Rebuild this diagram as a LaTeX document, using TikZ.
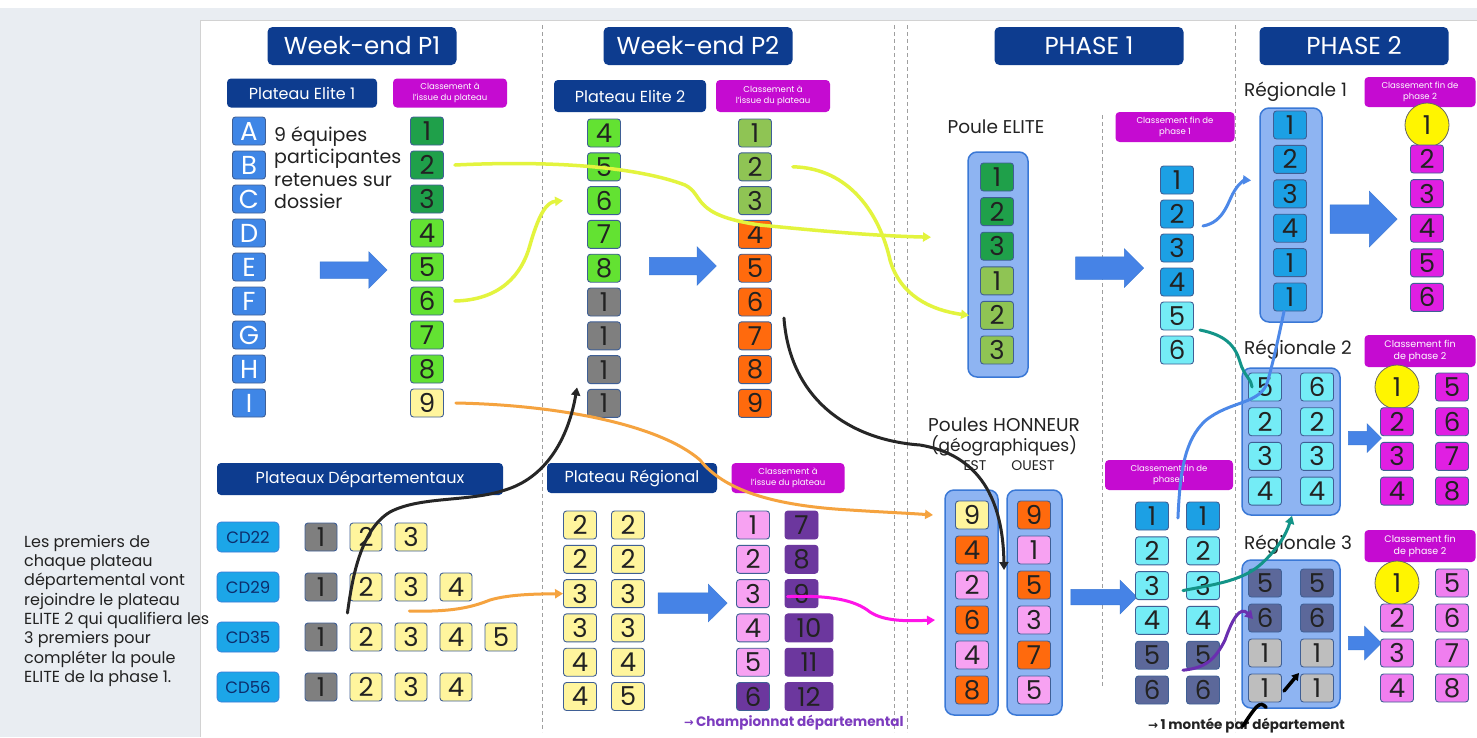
\documentclass[tikz,border=0pt]{standalone}
\usepackage{fontspec}
\setmainfont{Poppins}
\newfontfamily\dejavu{DejaVu Sans}
\usetikzlibrary{shapes.arrows,arrows.meta}
\definecolor{hdr}{HTML}{0D3C8F}
\definecolor{mag}{HTML}{C50BD1}
\definecolor{letblue}{HTML}{3F86E6}
\definecolor{dkgreen}{HTML}{1FA04A}
\definecolor{ltgreen}{HTML}{63E232}
\definecolor{lyellow}{HTML}{FFF59D}
\definecolor{olive}{HTML}{8FC454}
\definecolor{orng}{HTML}{FF6A0D}
\definecolor{gry}{HTML}{7F7F7F}
\definecolor{pblue}{HTML}{1CA0E4}
\definecolor{cyantwo}{HTML}{74ECF6}
\definecolor{slate}{HTML}{5C689A}
\definecolor{lgray}{HTML}{BEBEBE}
\definecolor{pink}{HTML}{F7A2F2}
\definecolor{purp}{HTML}{6C379E}
\definecolor{magbox}{HTML}{E01FE2}
\definecolor{lmag}{HTML}{F07EEF}
\definecolor{ctnfill}{HTML}{8EB4F2}
\definecolor{ctnline}{HTML}{3A78D6}
\definecolor{bxline}{HTML}{3F5F95}
\definecolor{arrblue}{HTML}{4683E6}
\definecolor{cdblue}{HTML}{1CA6E8}
\definecolor{cdtext}{HTML}{0D2D6B}
\definecolor{lyel}{HTML}{E3F43E}
\definecolor{lora}{HTML}{F5A33F}
\definecolor{lmagl}{HTML}{FF14E8}
\definecolor{lteal}{HTML}{139488}
\definecolor{lblue}{HTML}{4C88E8}
\definecolor{lpurp}{HTML}{6A2FB0}
\definecolor{bgray}{HTML}{E9EDF2}
\definecolor{txt}{HTML}{222222}
\definecolor{circy}{HTML}{FFF500}
\definecolor{champ}{HTML}{7D3CBF}
\begin{document}
\begin{tikzpicture}[x=1pt,y=-1pt,
  hdr/.style={fill=hdr, rounded corners=5pt, text=white, inner sep=0pt, minimum height=38pt, minimum width=189pt, font=\fontsize{24.5}{27}\selectfont},
  sub/.style={fill=hdr, rounded corners=4pt, text=white, inner sep=0pt, minimum height=30pt, font=\fontsize{16}{18}\selectfont},
  cls/.style={fill=mag, rounded corners=4pt, text=white, align=center, inner sep=0pt, minimum height=30pt, font=\fontsize{8.5}{10.5}\selectfont},
  bx/.style={draw=bxline, line width=0.9pt, rounded corners=3pt, minimum width=33pt, minimum height=28pt, inner sep=0pt, text=txt, font=\fontsize{26}{26}\selectfont},
  ctn/.style={fill=ctnfill, draw=ctnline, line width=1.5pt, rounded corners=9pt},
  ycirc/.style={circle, fill=circy, draw=black!60, line width=0.8pt, minimum size=44pt, inner sep=0pt, text=txt, font=\fontsize{26}{26}\selectfont},
  bigarrow/.style 2 args={single arrow, fill=arrblue, draw=ctnline, line width=0.5pt, inner sep=#1, single arrow head extend=#2},
  cdbox/.style={fill=cdblue, draw=ctnline, line width=0.6pt, rounded corners=4pt, minimum width=62pt, minimum height=30pt, inner sep=0pt, text=cdtext, font=\fontsize{16.5}{16.5}\selectfont},
  sep/.style={draw=gray!75, dash pattern=on 4pt off 3pt, line width=0.7pt},
  curve/.style={line width=3pt, line cap=round},
  tip/.style={-{Triangle[length=8pt,width=9pt]}},
  lbl/.style={text=txt, inner sep=0pt}
]
\useasboundingbox (0,0) rectangle (1477,737);
\fill[bgray] (0,8) rectangle (1477,737);
\fill[white] (200,20) rectangle (1477,737);
\draw[gray!35, line width=0.8pt] (200,737) -- (200,20) -- (1477,20);

% separators
\draw[sep] (542,25) -- (542,732);
\draw[sep] (894,25) -- (894,732);
\draw[sep] (907,25) -- (907,732);
\draw[sep] (1102,115) -- (1102,688);
\draw[sep] (1235,25) -- (1235,732);

% main headers
\node[hdr] (hP1) at (362,46) {Week-end P1};
\node[hdr] (hP2) at (698,46) {Week-end P2};
\node[hdr] (hPh1) at (1089,46) {PHASE 1};
\node[hdr] (hPh2) at (1354,46) {PHASE 2};

% sub headers
\node[sub, minimum width=150pt, minimum height=29pt] (sE1) at (302,93) {Plateau Elite 1};
\node[sub, minimum width=152pt, minimum height=32pt] (sE2) at (630,96) {Plateau Elite 2};
\node[sub, minimum width=286pt, minimum height=32pt] (sDep) at (360,479) {Plateaux Départementaux};
\node[sub, minimum width=170pt, minimum height=30pt] (sReg) at (632,478) {Plateau Régional};

% classement labels
\node[cls, minimum width=114pt, minimum height=29pt] (cl1) at (450,93) {Classement à\\l'issue du plateau};
\node[cls, minimum width=114pt, minimum height=32pt] (cl2) at (773,96) {Classement à\\l'issue du plateau};
\node[cls, minimum width=119pt] (cl3) at (1175,127) {Classement fin de\\phase 1};
\node[cls, minimum width=111pt] (cl4) at (1420,92) {Classement fin de\\phase 2};
\node[cls, minimum width=111pt, minimum height=32pt, font=\fontsize{9.5}{12}\selectfont] (cl5) at (1420,351) {Classement fin\\de phase 2};
\node[cls, minimum width=111pt, minimum height=32pt, font=\fontsize{9.5}{12}\selectfont] (cl6) at (1420,546) {Classement fin\\de phase 2};
\node[cls, minimum width=113pt] (cl7) at (788,478) {Classement à\\l'issue du plateau};
\node[cls, minimum width=128pt] (cl8) at (1169,475) {Classement fin de\\phase 1};

% Week-end P1
\foreach \l [count=\i] in {A,B,C,D,E,F,G,H,I}
  \node[bx, fill=letblue, text=white] (p1l\i) at (249,{131+34*(\i-1)}) {\l};
\foreach \c [count=\i] in {dkgreen,dkgreen,dkgreen,ltgreen,ltgreen,ltgreen,ltgreen,ltgreen,lyellow}
  \node[bx, fill=\c] (p1r\i) at (427,{131+34*(\i-1)}) {\i};
\node[lbl, anchor=north west, align=left, font=\fontsize{19}{22.5}\selectfont] (p1txt) at (274,126) {9 équipes\\participantes\\retenues sur\\dossier};
\node[bigarrow={8pt}{10pt}, minimum height=67pt] (a1) at (349.5,270) {};

% Week-end P2
\foreach \v/\c [count=\i] in {4/ltgreen,5/ltgreen,6/ltgreen,7/ltgreen,8/ltgreen,1/gry,1/gry,1/gry,1/gry}
  \node[bx, fill=\c] (p2l\i) at (604,{133+33.8*(\i-1)}) {\v};
\foreach \c [count=\i] in {olive,olive,olive,orng,orng,orng,orng,orng,orng}
  \node[bx, fill=\c] (p2r\i) at (755,{133+33.8*(\i-1)}) {\i};
\node[bigarrow={8.5pt}{10.5pt}, minimum height=67pt] (a2) at (678.5,266) {};

% Poule ELITE
\node[lbl, font=\fontsize{18.5}{20}\selectfont] (peT) at (996,127) {Poule ELITE};
\node[ctn, minimum width=60pt, minimum height=225pt] (peC) at (998,264.5) {};
\foreach \v/\c [count=\i] in {1/dkgreen,2/dkgreen,3/dkgreen,1/olive,2/olive,3/olive}
  \node[bx, fill=\c] (pe\i) at (997,{177+34.6*(\i-1)}) {\v};
\node[bigarrow={11pt}{8pt}, minimum height=68pt] (a3) at (1104,268) {};
\foreach \c [count=\i] in {pblue,pblue,pblue,pblue,cyantwo,cyantwo}
  \node[bx, fill=\c] (c1\i) at (1177,{180+34*(\i-1)}) {\i};

% Regionale 1
\node[lbl, anchor=west, font=\fontsize{18.5}{20}\selectfont] (r1T) at (1244,92) {Régionale 1};
\node[ctn, minimum width=62pt, minimum height=214pt] (r1C) at (1291,215) {};
\foreach \v [count=\i] in {1,2,3,4,1,1}
  \node[bx, fill=pblue] (r1\i) at (1290,{125+34.4*(\i-1)}) {\v};
\node[bigarrow={14pt}{13.5pt}, minimum height=67pt] (a4) at (1356.5,219) {};
\node[ycirc] (r1o1) at (1427,125) {1};
\foreach \i in {2,...,6}
  \node[bx, fill=magbox] (r1o\i) at (1427,{159+34.6*(\i-2)}) {\i};

% Regionale 2
\node[lbl, anchor=west, font=\fontsize{18.5}{20}\selectfont] (r2T) at (1244,350) {Régionale 2};
\node[ctn, minimum width=98pt, minimum height=147pt] (r2C) at (1291,441.5) {};
\foreach \a/\b [count=\i] in {5/6,2/2,3/3,4/4}{
  \node[bx, fill=cyantwo] (r2l\i) at (1265,{387+34.7*(\i-1)}) {\a};
  \node[bx, fill=cyantwo] (r2r\i) at (1317,{387+34.7*(\i-1)}) {\b};
}
\node[bigarrow={6.5pt}{7.5pt}, minimum height=33pt] (a5) at (1361.5,438) {};
\node[ycirc] (r2o1) at (1397,387) {1};
\foreach \i in {2,3,4}
  \node[bx, fill=magbox] (r2o\i) at (1397,{387+34.7*(\i-1)}) {\i};
\foreach \i in {5,...,8}
  \node[bx, fill=magbox] (r2o\i) at (1452,{387+34.7*(\i-5)}) {\i};

% Regionale 3
\node[lbl, anchor=west, font=\fontsize{18.5}{20}\selectfont] (r3T) at (1244,545) {Régionale 3};
\node[ctn, minimum width=98pt, minimum height=148pt] (r3C) at (1291,634) {};
\draw[curve, black, line width=3.5pt, -{Triangle[length=7pt,width=8pt]}] (1284,691) -- (1299,673);
\foreach \a/\b/\c [count=\i] in {5/5/slate,6/6/slate,1/1/lgray,1/1/lgray}{
  \node[bx, fill=\c] (r3l\i) at (1265,{583+35*(\i-1)}) {\a};
  \node[bx, fill=\c] (r3r\i) at (1317,{583+35*(\i-1)}) {\b};
}
\node[bigarrow={6.5pt}{10pt}, minimum height=33pt] (a6) at (1361.5,643) {};
\node[ycirc] (r3o1) at (1397,583) {1};
\foreach \i in {2,3,4}
  \node[bx, fill=lmag] (r3o\i) at (1397,{583+35*(\i-1)}) {\i};
\foreach \i in {5,...,8}
  \node[bx, fill=lmag] (r3o\i) at (1452,{583+35*(\i-5)}) {\i};

% Poules Honneur
\node[lbl, font=\fontsize{18.5}{20}\selectfont] (hT1) at (1004,425) {Poules HONNEUR};
\node[lbl, font=\fontsize{17}{19}\selectfont] (hT2) at (1004,446) {(géographiques)};
\node[lbl, font=\fontsize{14}{16}\selectfont] (hEst) at (975,466) {EST};
\node[lbl, font=\fontsize{14}{16}\selectfont] (hOuest) at (1033,466) {OUEST};
\node[ctn, minimum width=53pt, minimum height=225pt] (estC) at (971.5,602.5) {};
\node[ctn, minimum width=55pt, minimum height=225pt] (ouestC) at (1034.5,602.5) {};
\foreach \v/\c [count=\i] in {9/lyellow,4/orng,2/pink,6/orng,4/pink,8/orng}
  \node[bx, fill=\c] (est\i) at (972,{515+35*(\i-1)}) {\v};
\foreach \v/\c [count=\i] in {9/orng,1/pink,5/orng,3/pink,7/orng,5/pink}
  \node[bx, fill=\c] (ouest\i) at (1034,{515+35*(\i-1)}) {\v};
\node[bigarrow={7.5pt}{9pt}, minimum height=66pt] (a8) at (1100,597) {};
\foreach \v/\c [count=\i] in {1/pblue,2/cyantwo,3/cyantwo,4/cyantwo,5/slate,6/slate}{
  \node[bx, fill=\c] (hl\i) at (1152,{516+34.8*(\i-1)}) {\v};
  \node[bx, fill=\c] (hr\i) at (1203,{516+34.8*(\i-1)}) {\v};
}
\node[lbl, anchor=west, font=\bfseries\fontsize{13.5}{15}\selectfont] (monT) at (1148,726) {{\dejavu\fontsize{12}{14}\selectfont →}\,1 montée par département};

% Plateau regional
\foreach \a/\b [count=\i] in {2/2,2/2,3/3,3/3,4/4,4/5}{
  \node[bx, fill=lyellow] (prl\i) at (580,{525+34.3*(\i-1)}) {\a};
  \node[bx, fill=lyellow] (prr\i) at (628,{525+34.3*(\i-1)}) {\b};
}
\node[bigarrow={10pt}{8.5pt}, minimum height=69pt] (a7) at (687.5,603) {};
\foreach \c [count=\i] in {pink,pink,pink,pink,pink,purp}
  \node[bx, fill=\c] (rkl\i) at (753,{525+34.3*(\i-1)}) {\i};
\foreach \i in {7,8,9}
  \node[bx, fill=purp, draw=purp] (rkr\i) at (801.5,{525+34.3*(\i-7)}) {\i};
\foreach \i in {10,11,12}
  \node[bx, fill=purp, draw=purp, minimum width=48pt] (rkr\i) at (809,{525+34.3*(\i-7)}) {\i};
\node[lbl, anchor=west, text=champ, font=\bfseries\fontsize{13.6}{15}\selectfont] (chT) at (684,723) {{\dejavu\fontsize{11.5}{14}\selectfont →}\,Championnat départemental};

% Plateaux departementaux
\foreach \n/\k [count=\r] in {22/3,29/4,35/5,56/4}{
  \node[cdbox] (cd\n) at (248,{537+50*(\r-1)}) {CD\n};
  \node[bx, fill=gry, minimum width=32pt] (cd\n x1) at (321,{537+50*(\r-1)}) {1};
  \foreach \j in {2,...,\k}
    \node[bx, fill=lyellow, minimum width=32pt] (cd\n x\j) at ({321+45*(\j-1)},{537+50*(\r-1)}) {\j};
}

% left note
\node[lbl, anchor=north west, align=left, font=\fontsize{16}{19.3}\selectfont] (note) at (24,535) {Les premiers de\\chaque plateau\\départemental vont\\rejoindre le plateau\\ELITE 2 qui qualifiera les\\3 premiers pour\\compléter la poule\\ELITE de la phase 1.};

% connectors
\draw[curve, lyel, line width=3.5pt, tip] ([xshift=11pt]p1r2.east) .. controls (560,160) and (640,168) .. (685,185) .. controls (705,195) and (690,215) .. (760,225) .. controls (830,232) and (880,236) .. ([xshift=-49pt,yshift=9pt]pe3.west);
\draw[curve, lyel, line width=3.5pt, tip] ([xshift=11pt]p1r6.east) .. controls (500,300) and (522,275) .. (530,245) .. controls (540,210) and (548,202) .. ([xshift=-24pt]p2l3.west);
\draw[curve, lyel, line width=3.5pt, tip] ([xshift=21pt]p2r2.east) .. controls (850,168) and (880,215) .. (890,260) .. controls (900,295) and (930,310) .. ([xshift=-11pt]pe5.west);
\draw[curve, lora, tip] ([xshift=12pt]p1r9.east) .. controls (560,405) and (660,425) .. (700,460) .. controls (720,485) and (760,505) .. (850,510) .. controls (880,512) and (905,513) .. ([xshift=-22pt]est1.west);
\draw[curve, lora, tip] ([xshift=27pt,yshift=-24pt]cd29x2.east) .. controls (450,612) and (470,608) .. (490,600) .. controls (510,594) and (540,594) .. (prl3.west);
\draw[curve, black!85, tip] ([xshift=10pt,yshift=-26pt]cd29x1.east) .. controls (352,580) and (360,530) .. (390,512) .. controls (420,496) and (470,502) .. (505,490) .. controls (545,478) and (568,440) .. ([xshift=-10pt,yshift=16pt]p2l9.west);
\draw[curve, black!85, tip] ([xshift=12pt,yshift=-16pt]p2r6.east) .. controls (790,400) and (850,440) .. (920,445) .. controls (980,455) and (1003,500) .. ([xshift=-13pt,yshift=-20pt]ouest2.west);
\draw[curve, lmagl, tip] ([xshift=-14pt,yshift=-3pt]rkr9.center) .. controls (830,595) and (855,600) .. (870,612) .. controls (885,622) and (910,621) .. ([xshift=-20pt]est4.west);
\draw[curve, lblue, tip] ([xshift=9pt,yshift=-12pt]c12.east) .. controls (1225,222) and (1228,200) .. (1235,190) .. controls (1240,182) and (1245,180) .. ([xshift=-22pt,yshift=-21pt]r12.west);
\draw[curve, lteal] ([xshift=6pt,yshift=-14pt]c15.east) .. controls (1225,335) and (1235,345) .. (1240,362) .. controls (1244,376) and (1252,380) .. ([xshift=4pt]r2l1.west);
\draw[curve, lblue] ([xshift=9pt,yshift=-2pt]hl1.east) .. controls (1180,470) and (1185,440) .. (1205,421) .. controls (1230,400) and (1262,405) .. (1268,380) .. controls (1275,355) and (1280,330) .. ([xshift=-6pt]r16.south);
\draw[curve, lteal, tip] ([xshift=14pt,yshift=-5pt]hl3.east) .. controls (1210,585) and (1240,582) .. (1260,565) .. controls (1277,550) and (1286,535) .. ([xshift=1pt]r2C.south);
\draw[curve, lpurp, tip] ([xshift=14pt,yshift=-15pt]hl5.east) .. controls (1205,668) and (1215,660) .. (1225,640) .. controls (1232,620) and (1240,605) .. ([xshift=5pt,yshift=-1pt]r3l2.west);
\draw[curve, black, line width=3.5pt] ([xshift=-4pt,yshift=-8pt]monT.north) .. controls (1256,706) and (1260,700) .. ([xshift=1pt,yshift=-5pt]r3l4.south);
\end{tikzpicture}
\end{document}
